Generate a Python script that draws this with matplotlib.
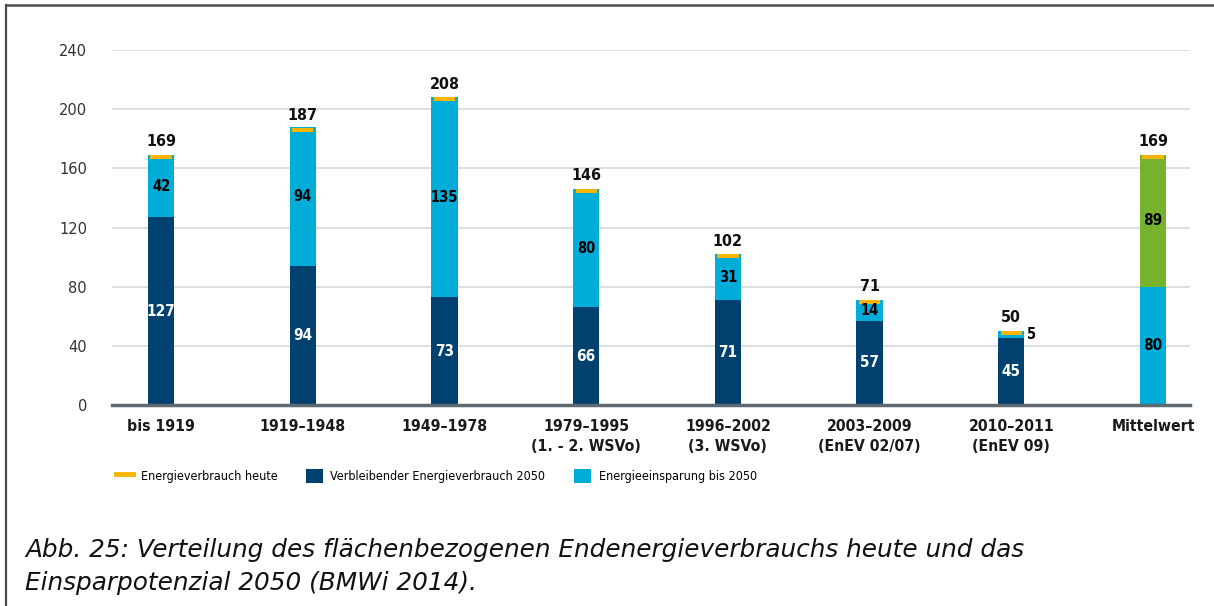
import matplotlib
matplotlib.use("Agg")
import matplotlib.pyplot as plt
from matplotlib.lines import Line2D
from matplotlib.patches import Patch

# data
categories = [
    "bis 1919", "1919–1948", "1949–1978", "1979–1995\n(1. - 2. WSVo)",
    "1996–2002\n(3. WSVo)", "2003–2009\n(EnEV 02/07)", "2010–2011\n(EnEV 09)",
    "Mittelwert",
]
remaining_2050 = [127, 94, 73, 66, 71, 57, 45]
savings_2050 = [42, 94, 135, 80, 31, 14, 5]
mean_lower = 80
mean_upper = 89
totals_today = [169, 187, 208, 146, 102, 71, 50, 169]
y_ticks = [0, 40, 80, 120, 160, 200, 240]

caption_1 = "Abb. 25: Verteilung des flächenbezogenen Endenergieverbrauchs heute und das"
caption_2 = "Einsparpotenzial 2050 (BMWi 2014)."

DARK = "#00416f"
LIGHT = "#00acd8"
GREEN = "#76b22c"
ORANGE = "#f7b500"
GRID = "#d5dde2"
BASE = "#5e6a71"

plt.rcParams["font.family"] = ["DejaVu Sans"]
plt.rcParams["font.stretch"] = "condensed"

fig = plt.figure(figsize=(12.14, 6.06), dpi=100)
ax = fig.add_axes([112 / 1214, 201 / 606, 1078 / 1214, 355 / 606])

x = list(range(len(categories)))
w = 0.185
n = len(remaining_2050)

ax.bar(x[:n], remaining_2050, width=w, color=DARK, zorder=3)
ax.bar(x[:n], savings_2050, bottom=remaining_2050, width=w, color=LIGHT, zorder=3)
ax.bar(x[n], mean_lower, width=w, color=LIGHT, zorder=3)
ax.bar(x[n], mean_upper, bottom=mean_lower, width=w, color=GREEN, zorder=3)

# today's consumption marker on top of each bar
cap_h = 2.4
ax.bar(x, [cap_h] * len(x), bottom=[t - cap_h for t in totals_today],
       width=0.15, color=ORANGE, zorder=4)

for i in range(n):
    ax.text(x[i], remaining_2050[i] / 2, str(remaining_2050[i]), ha="center",
            va="center", color="white", fontsize=11, fontweight="bold", zorder=5)
    if savings_2050[i] >= 10:
        ax.text(x[i], remaining_2050[i] + savings_2050[i] / 2, str(savings_2050[i]),
                ha="center", va="center", color="black", fontsize=10.5,
                fontweight="bold", zorder=5)
    else:
        ax.text(x[i] + w / 2 + 0.02, remaining_2050[i] + savings_2050[i] / 2,
                str(savings_2050[i]), ha="left", va="center", color="black",
                fontsize=10.5, fontweight="bold", zorder=5)

ax.text(x[n], mean_lower / 2, str(mean_lower), ha="center", va="center",
        color="black", fontsize=11, fontweight="bold", zorder=5)
ax.text(x[n], mean_lower + mean_upper / 2, str(mean_upper), ha="center",
        va="center", color="black", fontsize=11, fontweight="bold", zorder=5)

for i, t in enumerate(totals_today):
    ax.annotate(str(t), (x[i], t), xytext=(0, 4), textcoords="offset points",
                ha="center", va="bottom", fontsize=11.5, fontweight="bold",
                color="#111111", zorder=5)

ax.set_xlim(-0.346, 7.261)
ax.set_ylim(0, 240)
ax.set_yticks(y_ticks)
ax.set_yticklabels([str(v) for v in y_ticks], fontstretch="normal",
                   fontsize=10.5, color="#333333")
ax.set_xticks(x)
ax.set_xticklabels(categories, fontsize=11.3, fontweight="bold", color="#1a1a1a",
                   linespacing=1.4)
ax.tick_params(axis="both", length=0)
ax.tick_params(axis="y", pad=18)
ax.tick_params(axis="x", pad=10)
ax.grid(axis="y", color=GRID, linewidth=1.3, zorder=0)
ax.axhline(0, color=BASE, linewidth=2.5, zorder=6, clip_on=False)
for s in ax.spines.values():
    s.set_visible(False)

handles = [
    Line2D([0], [0], color=ORANGE, linewidth=3.5),
    Patch(facecolor=DARK),
    Patch(facecolor=LIGHT),
]
labels = ["Energieverbrauch heute", "Verbleibender Energieverbrauch 2050",
          "Energieeinsparung bis 2050"]
fig.legend(handles, labels, loc="center left", ncol=3,
           bbox_to_anchor=(105 / 1214, 1 - 476 / 606), frameon=False,
           fontsize=9, handlelength=1.35, handleheight=1.4, handletextpad=0.6,
           columnspacing=2.3)

fig.text(25 / 1214, 1 - 557 / 606, caption_1, fontstretch="normal",
         style="italic", fontsize=17.8, color="#111111", va="baseline")
fig.text(25 / 1214, 1 - 590 / 606, caption_2, fontstretch="normal",
         style="italic", fontsize=17.8, color="#111111", va="baseline")

# screenshot frame
fig.add_artist(Line2D([6 / 1214, 6 / 1214], [0, 1 - 5 / 606], color="#4d4d4d",
                      linewidth=1.6, transform=fig.transFigure))
fig.add_artist(Line2D([6 / 1214, 1], [1 - 5 / 606, 1 - 5 / 606], color="#4d4d4d",
                      linewidth=1.8, transform=fig.transFigure))

fig.savefig("out.png", dpi=100)
